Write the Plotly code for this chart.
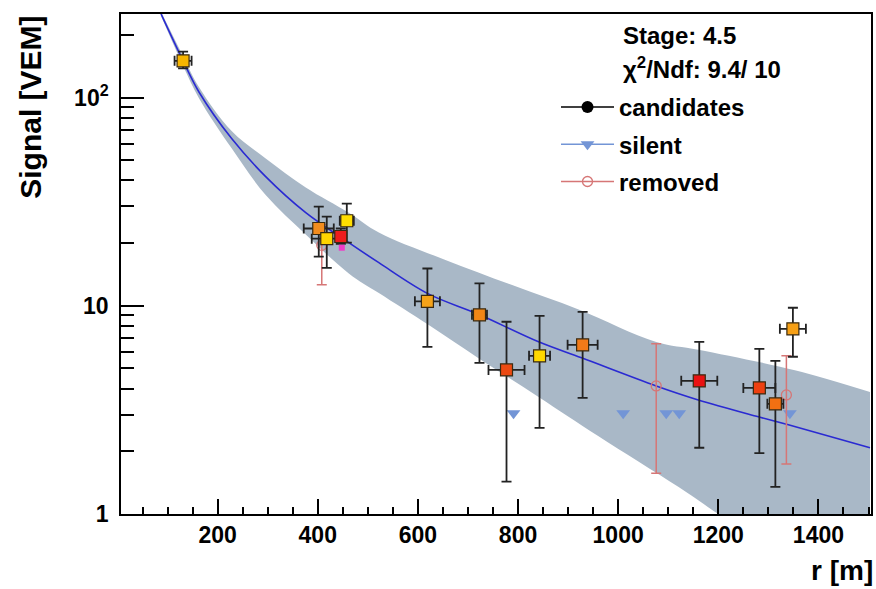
import plotly.graph_objects as go

# ---- data ---------------------------------------------------------------
# fitted lateral distribution function (r [m], signal [VEM])
fit_r = [87, 131, 163, 228, 296, 376, 462, 522, 621, 721, 841, 927, 1076, 1160, 1280, 1340, 1503]
fit_s = [252, 150, 106, 63.5, 41.7, 28.0, 20.1, 16.1, 11.4, 9.1, 6.71, 5.62, 4.12, 3.53, 2.93, 2.68, 2.08]

# uncertainty band of the fit
band_up_r = [87, 131, 163, 228, 296, 376, 462, 522, 655, 791, 921, 1076, 1160, 1353, 1503]
band_up_s = [258, 158, 112, 69, 51, 37, 28, 22.5, 16.6, 12.5, 9.6, 6.7, 6.15, 4.9, 3.85]
band_lo_r = [87, 131, 163, 228, 296, 376, 462, 522, 621, 721, 841, 960, 1120, 1200, 1360, 1503]
band_lo_s = [246, 142, 99, 57, 34, 22, 14.3, 11.5, 8.1, 5.6, 3.65, 2.37, 1.35, 1.0, 0.57, 0.34]

# candidate stations
cand_r = [131, 402, 418, 446, 458, 619, 723, 777, 843, 929, 1162, 1282, 1314, 1349]
cand_s = [150, 23.5, 21.0, 21.5, 25.6, 10.5, 9.05, 4.92, 5.75, 6.49, 4.36, 4.03, 3.38, 7.75]
cand_hi = [166, 29.9, 26.8, 23.5, 30.9, 15.1, 12.8, 8.38, 8.95, 9.35, 6.71, 6.21, 5.44, 9.78]
cand_lo = [138, 17.2, 15.2, 19.8, 20.1, 6.35, 5.32, 1.43, 2.59, 3.61, 2.08, 1.96, 1.35, 5.69]
cand_dr = [17, 30, 30, 10, 14, 25, 15, 36, 21, 30, 36, 32, 16, 26]
cand_colors = ["#f7b500", "#f28c1e", "#ffd500", "#ee1c1c", "#ffde00", "#f5a31a", "#f28616",
               "#ec4a12", "#ffd800", "#f27a18", "#ea1212", "#ee4010", "#f27012", "#f7a015"]

# small extra hit next to the red station
extra_r = [448]
extra_s = [19.0]

# silent stations
silent_r = [791, 1010, 1096, 1122, 1343]
silent_s = [3.05, 3.05, 3.05, 3.05, 3.05]

# removed stations
rem_r = [408, 1076, 1336]
rem_s = [19.5, 4.12, 3.73]
rem_hi = [24.5, 6.57, 5.75]
rem_lo = [12.6, 1.57, 1.74]

x_ticks = [200, 400, 600, 800, 1000, 1200, 1400]
y_ticks = [1, 10, 100]
y_tick_text = ["1", "10", "10<sup>2</sup>"]

stage_text = "Stage: 4.5"
chi2_text = "\u03c7<sup>2</sup>/Ndf: 9.4/ 10"

# ---- styling --------------------------------------------------------------
FONT = "Liberation Sans"
BAND = "#a9b8c7"
FITLINE = "#2a2ad2"
SILENT = "#7395d6"
REMOVED = "#d67676"
TEXT_SIZE = 24
TICK_SIZE = 23
TITLE_SIZE = 30

fig = go.Figure()

# band: lower edge first, upper edge filled down to it
fig.add_trace(go.Scatter(x=band_lo_r, y=band_lo_s, mode="lines", line=dict(width=0, color=BAND, shape="spline"),
                         hoverinfo="skip", showlegend=False))
fig.add_trace(go.Scatter(x=band_up_r, y=band_up_s, mode="lines", line=dict(width=0, color=BAND, shape="spline"),
                         fill="tonexty", fillcolor=BAND, hoverinfo="skip", showlegend=False))

fig.add_trace(go.Scatter(x=fit_r, y=fit_s, mode="lines", line=dict(color=FITLINE, width=1.6, shape="spline"),
                         showlegend=False))

fig.add_trace(go.Scatter(x=silent_r, y=silent_s, mode="markers",
                         marker=dict(symbol="triangle-down", size=12, color=SILENT, line=dict(width=0)),
                         showlegend=False))

fig.add_trace(go.Scatter(
    x=rem_r, y=rem_s, mode="markers",
    marker=dict(symbol="circle-open", size=10, color=REMOVED, line=dict(width=1.3, color=REMOVED)),
    error_y=dict(type="data", symmetric=False,
                 array=[h - s for h, s in zip(rem_hi, rem_s)],
                 arrayminus=[s - l for s, l in zip(rem_s, rem_lo)],
                 color=REMOVED, thickness=1.5, width=5),
    showlegend=False))

fig.add_trace(go.Scatter(
    x=cand_r, y=cand_s, mode="markers",
    marker=dict(symbol="square", size=12, color=cand_colors, line=dict(width=1.2, color="#3a2a10")),
    error_y=dict(type="data", symmetric=False,
                 array=[h - s for h, s in zip(cand_hi, cand_s)],
                 arrayminus=[s - l for s, l in zip(cand_s, cand_lo)],
                 color="#222222", thickness=1.8, width=5),
    error_x=dict(type="data", array=cand_dr, color="#222222", thickness=1.8, width=5),
    showlegend=False))

fig.add_trace(go.Scatter(x=extra_r, y=extra_s, mode="markers",
                         marker=dict(symbol="square", size=6, color="#f03cc8"), showlegend=False))

# legend entries
fig.add_trace(go.Scatter(x=[None], y=[None], mode="lines+markers", name="candidates", legendgroup="c",
                         line=dict(color="black", width=1.5), marker=dict(symbol="circle", size=12, color="black")))
fig.add_trace(go.Scatter(x=[None], y=[None], mode="lines+markers", name="silent", legendgroup="s",
                         line=dict(color=SILENT, width=1.5), marker=dict(symbol="triangle-down", size=12, color=SILENT)))
fig.add_trace(go.Scatter(x=[None], y=[None], mode="lines+markers", name="removed", legendgroup="r",
                         line=dict(color=REMOVED, width=1.5),
                         marker=dict(symbol="circle-open", size=10, color=REMOVED, line=dict(width=1.3))))

fig.update_layout(
    width=876, height=589,
    margin=dict(l=121, r=3, t=14, b=75),
    paper_bgcolor="white", plot_bgcolor="white",
    font=dict(family=FONT, size=TEXT_SIZE, color="black", weight="bold"),
    showlegend=True,
    legend=dict(x=0.580, y=0.858, xanchor="left", yanchor="top", bgcolor="rgba(0,0,0,0)",
                traceorder="grouped", font=dict(family=FONT, size=TEXT_SIZE, weight="bold"),
                itemwidth=53, tracegroupgap=3),
    xaxis=dict(range=[7, 1505], tickvals=x_ticks, ticks="inside", ticklen=15, tickwidth=1.5, tickcolor="black",
               showline=True, linecolor="black", linewidth=1.5, mirror=True, showgrid=False, zeroline=False,
               tickfont=dict(family=FONT, size=TICK_SIZE, weight="bold"),
               minor=dict(ticks="inside", ticklen=7, tickcolor="black", dtick=50, showgrid=False)),
    yaxis=dict(type="log", range=[0, 2.401], tickvals=y_ticks, ticktext=y_tick_text,
               ticks="inside", ticklen=23, tickcolor="black", tickwidth=1.5,
               showline=True, linecolor="black", linewidth=1.5, mirror=True, showgrid=False, zeroline=False,
               tickfont=dict(family=FONT, size=TICK_SIZE, weight="bold"), ticklabelstandoff=6,
               minor=dict(ticks="inside", ticklen=13, tickcolor="black", tickwidth=1.5,
                          tickvals=[2, 3, 4, 5, 6, 7, 8, 9, 20, 30, 40, 50, 60, 70, 80, 90, 200],
                          showgrid=False)),
    annotations=[
        dict(text="Signal [VEM]", xref="paper", yref="paper", x=-0.121, y=1.0, xanchor="center", yanchor="top",
             textangle=-90, showarrow=False, font=dict(family=FONT, size=TITLE_SIZE, weight="bold")),
        dict(text="r [m]", xref="paper", yref="paper", x=1.0, y=-0.148, xanchor="right", yanchor="bottom",
             xshift=4, showarrow=False, font=dict(family=FONT, size=28, weight="bold")),
        dict(text=stage_text, xref="paper", yref="paper", x=0.666, y=0.958, xanchor="left", yanchor="middle",
             showarrow=False, font=dict(family=FONT, size=TEXT_SIZE, weight="bold")),
        dict(text=chi2_text, xref="paper", yref="paper", x=0.666, y=0.892, xanchor="left", yanchor="middle",
             showarrow=False, font=dict(family=FONT, size=TEXT_SIZE, weight="bold")),
    ],
)

fig.write_html("out.html")
